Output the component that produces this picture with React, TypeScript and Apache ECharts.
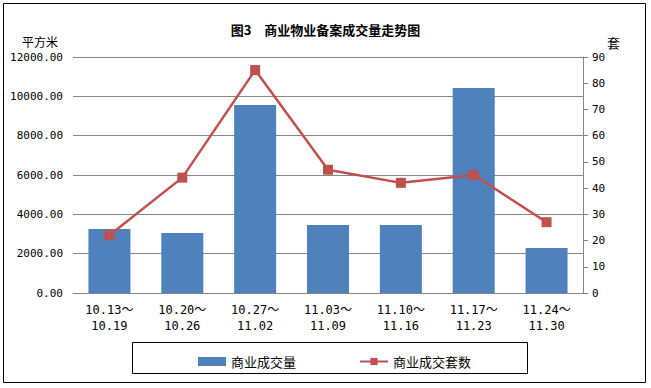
import React, { useEffect, useRef } from "react";
import * as echarts from "echarts";

const categories = ["10.13～\n10.19", "10.20～\n10.26", "10.27～\n11.02", "11.03～\n11.09", "11.10～\n11.16", "11.17～\n11.23", "11.24～\n11.30"];
const areaValues = [3250, 3050, 9560, 3460, 3460, 10420, 2290];
const unitValues = [22, 44, 85, 47, 42, 45, 27];
const leftTicks = { min: 0, max: 12000, interval: 2000 };
const rightTicks = { min: 0, max: 90, interval: 10 };
const titleText = "图3　商业物业备案成交量走势图";
const seriesNames = ["商业成交量", "商业成交套数"];

const monoFont = "'DejaVu Sans Mono', 'Noto Sans CJK SC', monospace";
const cjkFont = "'Noto Sans CJK SC', sans-serif";

export default function App() {
  const ref = useRef<HTMLDivElement>(null);
  useEffect(() => {
    if (!ref.current) return;
    const chart = echarts.init(ref.current, null, { renderer: "svg" });
    chart.setOption({
      animation: false,
      backgroundColor: "#fff",
      title: {
        text: titleText,
        left: "center",
        top: 18,
        textStyle: { fontSize: 13, fontWeight: "bold", color: "#000", fontFamily: cjkFont },
      },
      grid: { left: 73, right: 68, top: 57, bottom: 95 },
      legend: {
        left: 193,
        top: 350,
        itemWidth: 28,
        itemHeight: 9,
        itemGap: 63,
        textStyle: { fontSize: 13, color: "#000", fontFamily: cjkFont },
        data: [{ name: seriesNames[0], icon: "rect" }, { name: seriesNames[1] }],
      },
      xAxis: {
        type: "category",
        data: categories,
        axisLine: { lineStyle: { color: "#868686" } },
        axisTick: { show: false },
        axisLabel: { color: "#000", fontSize: 12, lineHeight: 16, margin: 9, fontFamily: monoFont },
      },
      yAxis: [
        {
          type: "value",
          min: leftTicks.min,
          max: leftTicks.max,
          interval: leftTicks.interval,
          name: "平方米",
          nameLocation: "end",
          nameGap: 10,
          nameTextStyle: { align: "right", padding: [0, 15, 0, 0], color: "#000", fontSize: 12, fontFamily: cjkFont },
          axisLine: { show: false },
          axisTick: { show: false },
          splitLine: { lineStyle: { color: "#868686" } },
          axisLabel: { color: "#000", fontSize: 11, margin: 10, fontFamily: monoFont, formatter: (v: number) => v.toFixed(2) },
        },
        {
          type: "value",
          min: rightTicks.min,
          max: rightTicks.max,
          interval: rightTicks.interval,
          name: "套",
          nameLocation: "end",
          nameGap: 8,
          nameTextStyle: { align: "left", padding: [0, 0, 0, 24], color: "#000", fontSize: 13, fontFamily: cjkFont },
          axisLine: { show: true, lineStyle: { color: "#868686" } },
          axisTick: { show: true, length: 5, lineStyle: { color: "#868686" } },
          splitLine: { show: false },
          axisLabel: { color: "#000", fontSize: 11, margin: 9, fontFamily: monoFont },
        },
      ],
      series: [
        {
          name: seriesNames[0],
          type: "bar",
          data: areaValues,
          barWidth: 42,
          itemStyle: { color: "#4F81BD" },
        },
        {
          name: seriesNames[1],
          type: "line",
          yAxisIndex: 1,
          data: unitValues,
          symbol: "rect",
          symbolSize: 10,
          lineStyle: { color: "#C0504D", width: 2.5 },
          itemStyle: { color: "#C0504D" },
        },
      ],
      graphic: [
        {
          type: "rect",
          shape: { x: 3.5, y: 3.5, width: 642, height: 379 },
          style: { fill: "none", stroke: "#000", lineWidth: 1 },
          silent: true,
        },
        {
          type: "rect",
          shape: { x: 132.5, y: 342.5, width: 395, height: 31 },
          style: { fill: "none", stroke: "#000", lineWidth: 1 },
          silent: true,
        },
      ],
    });
    return () => chart.dispose();
  }, []);
  return <div ref={ref} style={{ position: "absolute", left: 0, top: 0, width: 651, height: 388 }} />;
}
